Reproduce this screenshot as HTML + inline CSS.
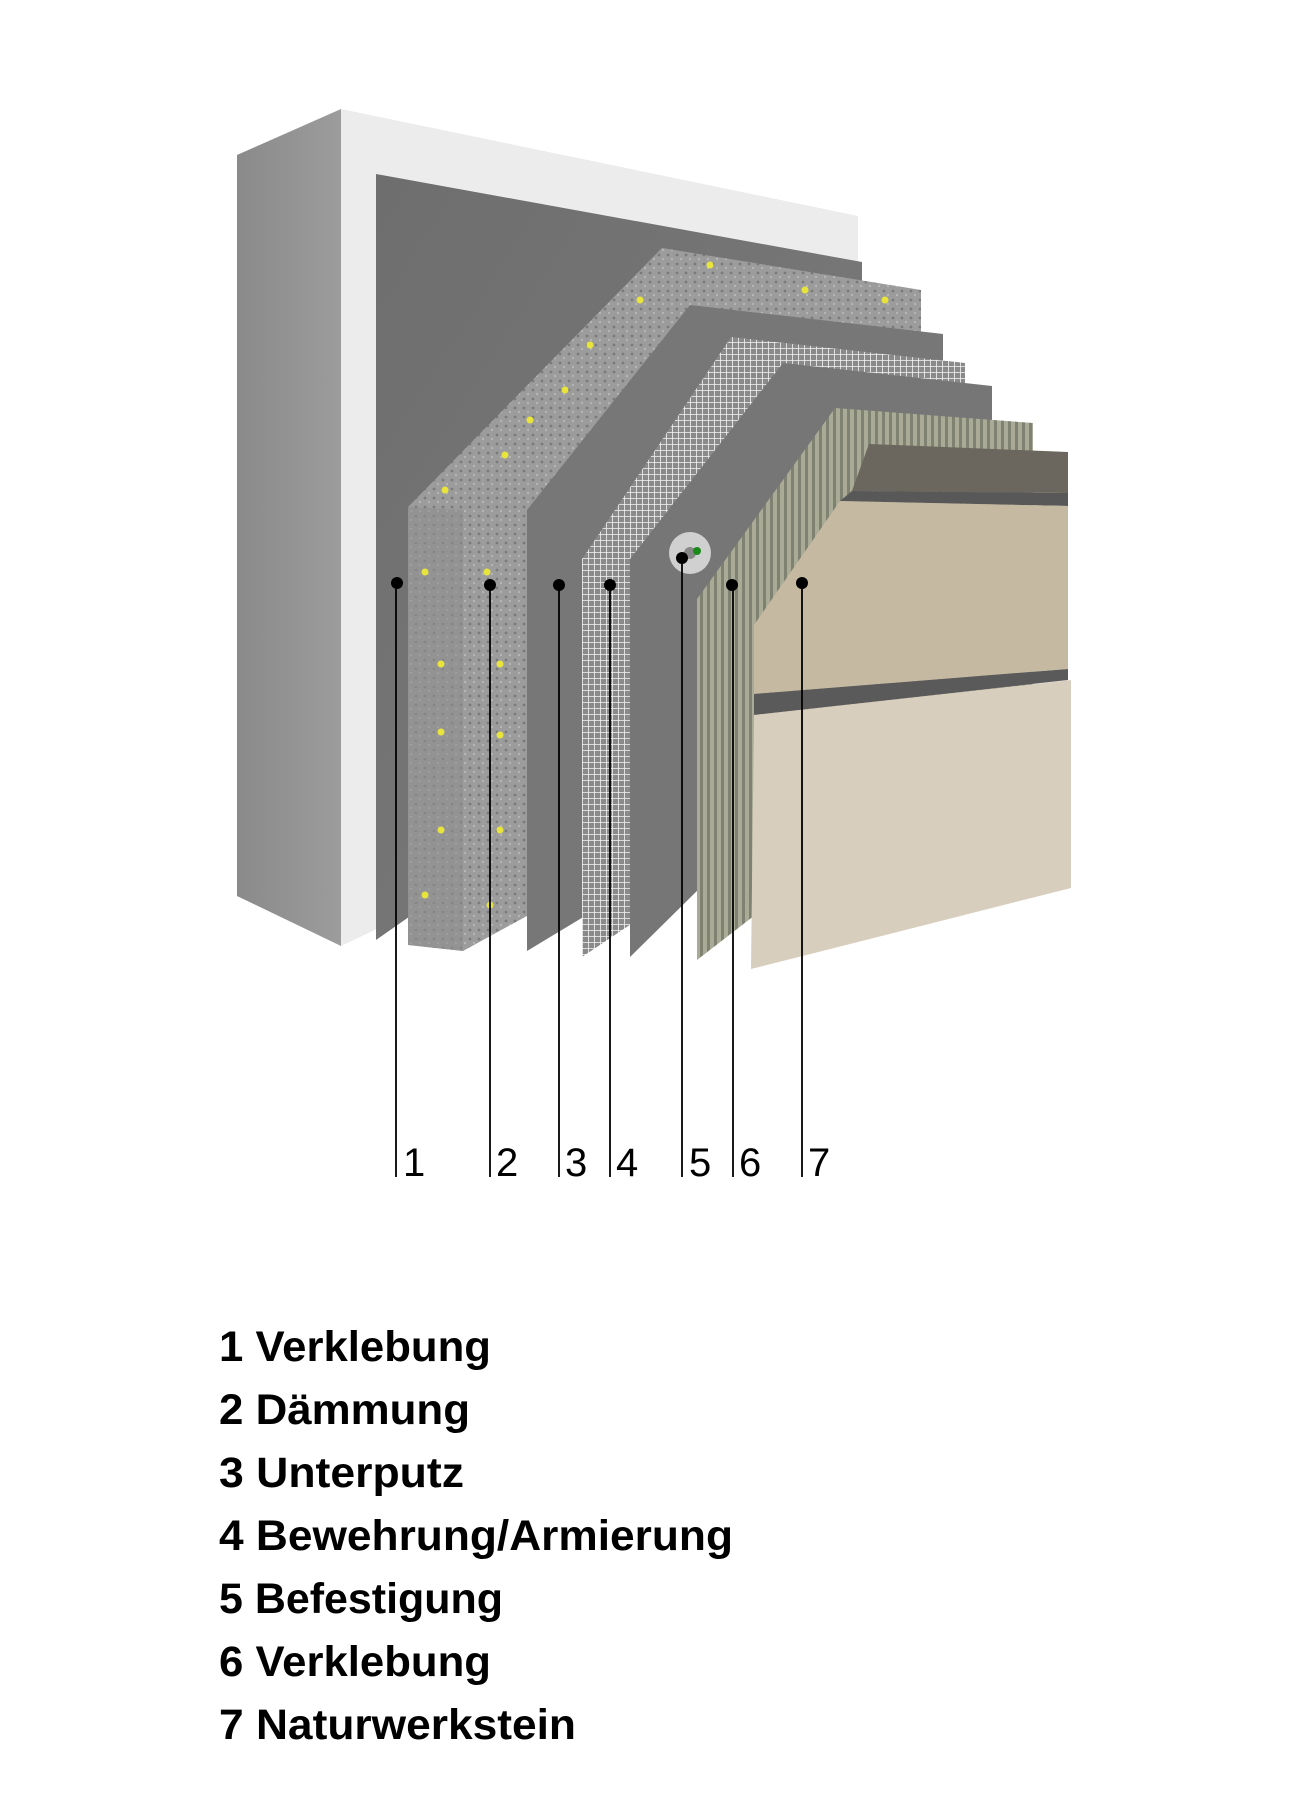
<!DOCTYPE html>
<html><head><meta charset="utf-8"><style>
html,body{margin:0;padding:0;background:#fff}
svg{display:block}
text{font-family:"Liberation Sans",sans-serif}
</style></head><body>
<svg width="1299" height="1795" viewBox="0 0 1299 1795" xmlns="http://www.w3.org/2000/svg">
<defs>
<linearGradient id="wl" x1="0" x2="1"><stop offset="0" stop-color="#8a8a8a"/><stop offset="1" stop-color="#9c9c9c"/></linearGradient>
<linearGradient id="dk" x1="0" y1="0" x2="1" y2="1"><stop offset="0" stop-color="#6e6e6e"/><stop offset="1" stop-color="#7c7c7c"/></linearGradient>
<pattern id="mesh" width="6" height="6" patternUnits="userSpaceOnUse"><rect width="6" height="6" fill="#8a8a8a"/><path d="M0 0H6M0 0V6" stroke="#f4f4f4" stroke-width="1.6"/></pattern>
<pattern id="corr" width="7" height="10" patternUnits="userSpaceOnUse"><rect width="7" height="10" fill="#a9ab96"/><rect width="3" height="10" fill="#7f8270"/></pattern>
<pattern id="ins" width="9" height="9" patternUnits="userSpaceOnUse"><rect width="9" height="9" fill="#9c9c9c"/><circle cx="2" cy="3" r="1.4" fill="#7a7a7a"/><circle cx="6" cy="7" r="1.1" fill="#b8b8b8"/></pattern>
</defs>
<polygon points="237,155 341,109 341,946 237,896" fill="url(#wl)"/>
<polygon points="341,109 858,216 858,700 341,946" fill="#ececec"/>
<polygon points="376,174 862,262 862,600 376,940" fill="url(#dk)"/>
<polygon points="408,507 662,248 921,290 921,700 463,951 408,945" fill="url(#ins)"/>
<polygon points="408,507 463,510 463,951 408,945" fill="#8e8e8e" opacity="0.6"/>
<g fill="#e8e43c">
<circle cx="445" cy="490" r="3.5"/><circle cx="505" cy="455" r="3.5"/><circle cx="530" cy="420" r="3.5"/><circle cx="565" cy="390" r="3.5"/><circle cx="590" cy="345" r="3.5"/><circle cx="640" cy="300" r="3.5"/><circle cx="710" cy="265" r="3.5"/><circle cx="805" cy="290" r="3.5"/><circle cx="885" cy="300" r="3.5"/><circle cx="425" cy="572" r="3.5"/><circle cx="487" cy="572" r="3.5"/><circle cx="441" cy="664" r="3.5"/><circle cx="500" cy="664" r="3.5"/><circle cx="441" cy="732" r="3.5"/><circle cx="500" cy="735" r="3.5"/><circle cx="441" cy="830" r="3.5"/><circle cx="500" cy="830" r="3.5"/><circle cx="425" cy="895" r="3.5"/><circle cx="490" cy="905" r="3.5"/>
</g>
<polygon points="527,510 690,305 943,334 943,700 527,951" fill="#777"/>
<polygon points="582,559 731,337 965,363 965,380 965,700 582,957" fill="url(#mesh)"/>
<polygon points="630,559 783,363 992,386 992,600 630,957" fill="#767676"/>
<polygon points="697,599 835,408 1033,423 1033,700 697,960" fill="url(#corr)"/>
<polygon points="869,444 1068,452 1068,493 852,491" fill="#6b665e"/>
<polygon points="852,491 1068,493 1068,506 840,501" fill="#585858"/>
<polygon points="754,625 840,501 1068,506 1068,669 754,694" fill="#c6b9a2"/>
<polygon points="754,694 1068,669 1068,680 754,715" fill="#5a5a5a"/>
<polygon points="754,715 1071,680 1071,888 751,969" fill="#d8cebd"/>
<circle cx="690" cy="553" r="21" fill="#d0d0d0"/><circle cx="690" cy="553" r="6" fill="#888"/><circle cx="697" cy="551" r="4" fill="#1a8a1a"/>
<g stroke="#000" stroke-width="1.8">
<line x1="396" y1="582" x2="396" y2="1177"/><line x1="490" y1="585" x2="490" y2="1177"/><line x1="559" y1="585" x2="559" y2="1177"/><line x1="610" y1="585" x2="610" y2="1177"/><line x1="682" y1="558" x2="682" y2="1177"/><line x1="733" y1="585" x2="733" y2="1177"/><line x1="802" y1="585" x2="802" y2="1177"/>
</g>
<g fill="#000">
<circle cx="397" cy="583" r="6"/><circle cx="490" cy="585" r="6"/><circle cx="559" cy="585" r="6"/><circle cx="610" cy="585" r="6"/><circle cx="682" cy="558" r="6"/><circle cx="732" cy="585" r="6"/><circle cx="802" cy="583" r="6"/>
</g>
<g font-size="40" fill="#000">
<text x="403" y="1176">1</text><text x="496" y="1176">2</text><text x="565" y="1176">3</text><text x="616" y="1176">4</text><text x="689" y="1176">5</text><text x="739" y="1176">6</text><text x="808" y="1176">7</text>
</g>
<g font-size="43" font-weight="bold" fill="#000">
<text x="219" y="1361" textLength="272" lengthAdjust="spacingAndGlyphs">1 Verklebung</text>
<text x="219" y="1424" textLength="251" lengthAdjust="spacingAndGlyphs">2 Dämmung</text>
<text x="219" y="1487" textLength="245" lengthAdjust="spacingAndGlyphs">3 Unterputz</text>
<text x="219" y="1550" textLength="514" lengthAdjust="spacingAndGlyphs">4 Bewehrung/Armierung</text>
<text x="219" y="1613" textLength="284" lengthAdjust="spacingAndGlyphs">5 Befestigung</text>
<text x="219" y="1676" textLength="272" lengthAdjust="spacingAndGlyphs">6 Verklebung</text>
<text x="219" y="1739" textLength="357" lengthAdjust="spacingAndGlyphs">7 Naturwerkstein</text>
</g>
</svg>
</body></html>
